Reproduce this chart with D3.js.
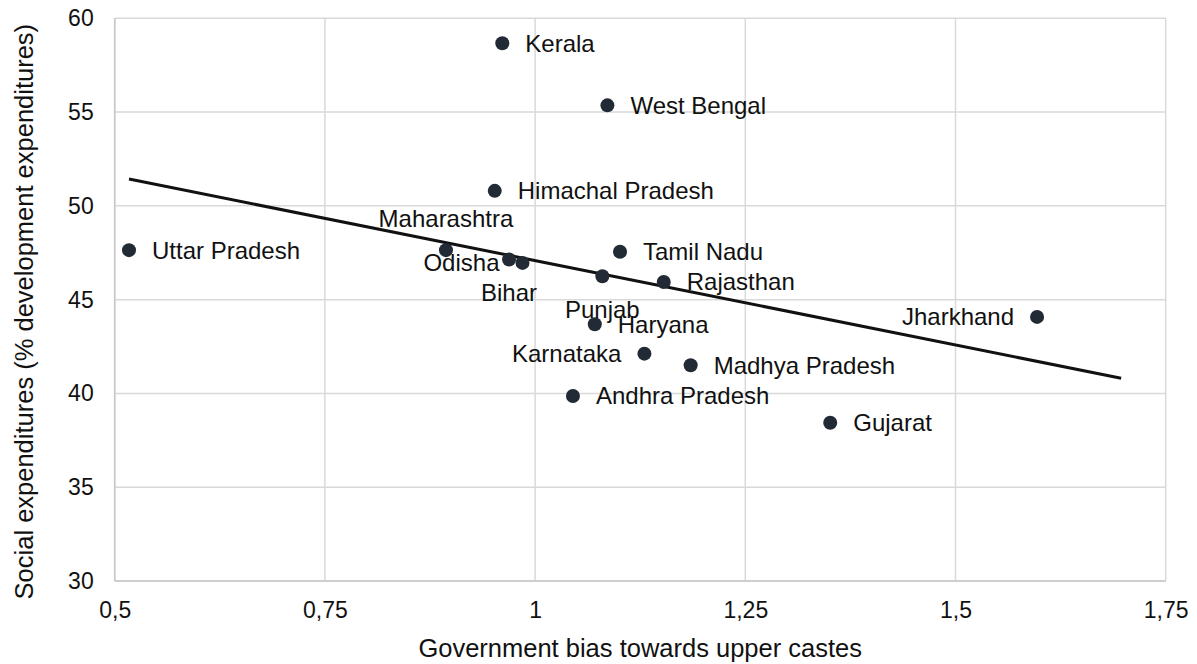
<!DOCTYPE html>
<html>
<head>
<meta charset="utf-8">
<script src="https://cdn.jsdelivr.net/npm/d3@7"></script>
<style>
  html, body { margin: 0; padding: 0; background: #fff; }
  svg { display: block; font-family: "Liberation Sans", Arial, sans-serif; }
</style>
</head>
<body>
<svg id="chart" width="1197" height="664"></svg>
<script>
// ---- data ----
const states = ["Uttar Pradesh","Maharashtra","Bihar","Odisha","Kerala","West Bengal","Himachal Pradesh","Tamil Nadu","Punjab","Rajasthan","Haryana","Karnataka","Madhya Pradesh","Andhra Pradesh","Gujarat","Jharkhand"];
const bias = [0.517,0.894,0.969,0.985,0.961,1.086,0.952,1.101,1.080,1.153,1.071,1.130,1.185,1.045,1.351,1.597];
const socialExp = [47.64,47.64,47.14,46.96,58.67,55.36,50.80,47.55,46.25,45.94,43.69,42.12,41.50,39.86,38.44,44.08];
const xTicks = [0.5,0.75,1,1.25,1.5,1.75];
const yTicks = [30,35,40,45,50,55,60];
const xTitle = "Government bias towards upper castes";
const yTitle = "Social expenditures (% development expenditures)";
const trendForward = 0.1;

// label placement (style only)
const labelPos = ["right","above","below","left","right","right","right","right","below","right","right","left","right","right","right","left"];

// ---- layout ----
const svg = d3.select("#chart");
const L = 114.7, R = 1165.7, T = 18.3, B = 581;
const x = d3.scaleLinear().domain([0.5,1.75]).range([L,R]);
const y = d3.scaleLinear().domain([30,60]).range([B,T]);
const fmt = d => String(d).replace(".", ",");
const FT = 23, FL = 24, FTT = 25.5;
const FF = "Liberation Sans, Arial, sans-serif";

// gridlines
svg.append("g").selectAll("line").data(xTicks).join("line")
  .attr("x1", d => x(d)).attr("x2", d => x(d)).attr("y1", T).attr("y2", B)
  .attr("stroke", "#d9d9d9").attr("stroke-width", 1.5);
svg.append("g").selectAll("line").data(yTicks).join("line")
  .attr("x1", L).attr("x2", R).attr("y1", d => y(d)).attr("y2", d => y(d))
  .attr("stroke", "#d9d9d9").attr("stroke-width", 1.5);
svg.append("line").attr("x1", L).attr("x2", L).attr("y1", T).attr("y2", B).attr("stroke", "#c8c8c8").attr("stroke-width", 1.5);
svg.append("line").attr("x1", L).attr("x2", R).attr("y1", B).attr("y2", B).attr("stroke", "#c8c8c8").attr("stroke-width", 1.5);

// axes via d3 (tick labels only)
const xAxis = svg.append("g").attr("transform", `translate(0,${B})`)
  .call(d3.axisBottom(x).tickValues(xTicks).tickFormat(fmt).tickSize(0).tickPadding(21));
xAxis.select(".domain").remove();
xAxis.selectAll("text").attr("font-size", FT).attr("fill", "#111").attr("font-family", FF);

const yAxis = svg.append("g").attr("transform", `translate(${L},0)`)
  .call(d3.axisLeft(y).tickValues(yTicks).tickFormat(fmt).tickSize(0).tickPadding(21));
yAxis.select(".domain").remove();
yAxis.selectAll("text").attr("font-size", FT).attr("fill", "#111").attr("font-family", FF);

// titles
svg.append("text").attr("x", (L+R)/2).attr("y", 648).attr("dy", "0.35em")
  .attr("text-anchor", "middle").attr("font-size", FTT).attr("fill", "#111").text(xTitle);
svg.append("text").attr("transform", `translate(24,${(T+B)/2 + 12}) rotate(-90)`).attr("dy", "0.35em")
  .attr("text-anchor", "middle").attr("font-size", FTT).attr("fill", "#111").text(yTitle);

// trend line (least squares)
const mx = d3.mean(bias), my = d3.mean(socialExp);
let sxy = 0, sxx = 0;
bias.forEach((b, i) => { sxy += (b - mx) * (socialExp[i] - my); sxx += (b - mx) ** 2; });
const slope = sxy / sxx, icpt = my - slope * mx;
const x0 = d3.min(bias), x1 = d3.max(bias) + trendForward;
svg.append("line")
  .attr("x1", x(x0)).attr("y1", y(icpt + slope * x0))
  .attr("x2", x(x1)).attr("y2", y(icpt + slope * x1))
  .attr("stroke", "#111").attr("stroke-width", 3);

// points
const pts = states.map((s, i) => ({ s, bx: bias[i], sy: socialExp[i], pos: labelPos[i] }));
svg.append("g").selectAll("circle").data(pts).join("circle")
  .attr("cx", d => x(d.bx)).attr("cy", d => y(d.sy)).attr("r", 7)
  .attr("fill", "#222a35");

// labels
svg.append("g").selectAll("text").data(pts).join("text")
  .attr("x", d => x(d.bx) + (d.pos === "right" ? 23 : d.pos === "left" ? -23 : 0))
  .attr("y", d => y(d.sy) + (d.pos === "above" ? -32 : d.pos === "below" ? 33 : 0))
  .attr("dy", "0.35em")
  .attr("text-anchor", d => d.pos === "right" ? "start" : d.pos === "left" ? "end" : "middle")
  .attr("font-size", FL).attr("fill", "#111").attr("font-family", FF)
  .text(d => d.s);
</script>
</body>
</html>
